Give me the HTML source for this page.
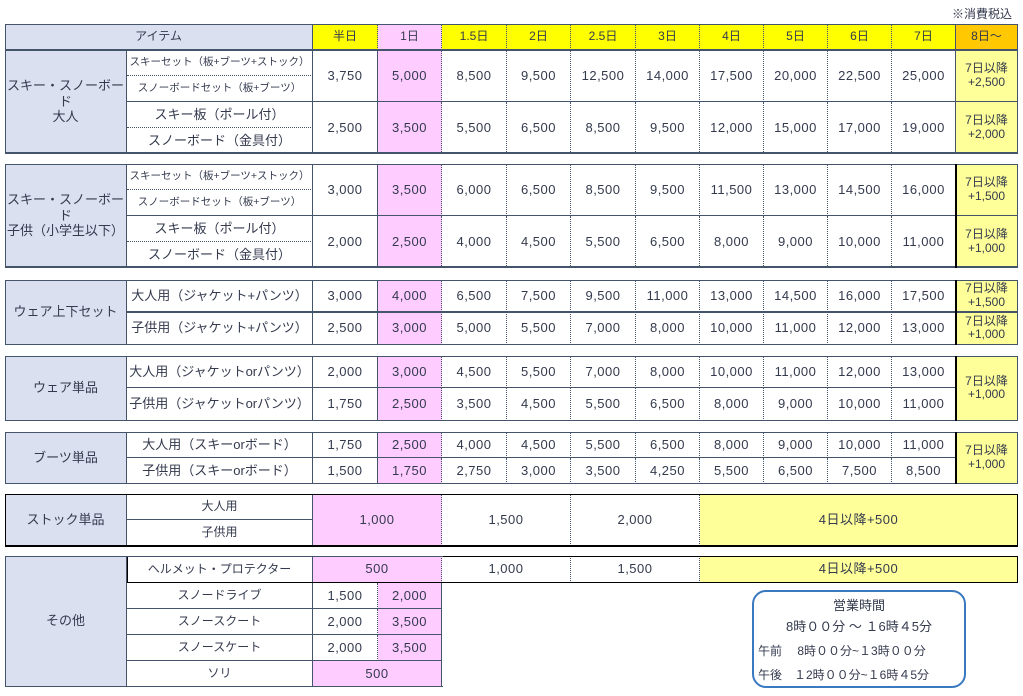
<!DOCTYPE html>
<html><head><meta charset="utf-8">
<style>
body{margin:0;background:#fff;width:1023px;height:696px;overflow:hidden;position:relative;font-family:"Liberation Sans","Noto Sans CJK JP",sans-serif;color:#333a4d;}
.c{position:absolute;box-sizing:border-box;display:flex;align-items:center;justify-content:center;text-align:center;line-height:1.2;border-right:1px solid #44546a;border-bottom:1px solid #44546a;font-size:12px;white-space:nowrap;overflow:hidden;}
.n{font-size:13px;letter-spacing:0.5px;}
.ex{font-size:12px;line-height:1.1;}
.dot{border-right:1px dotted #44546a;}
.dotb{border-bottom:1px dotted #44546a;}
.box{position:absolute;box-sizing:border-box;border:1px solid #44546a;pointer-events:none;}
</style></head><body>
<div style="position:absolute;left:952px;top:5px;font-size:12px;">※消費税込</div>
<div style="position:absolute;left:752px;top:590px;width:214px;height:98px;box-sizing:border-box;border:2px solid #3a78c0;border-radius:14px;font-size:13px;">
<div style="position:absolute;top:3px;width:100%;text-align:center;">営業時間</div>
<div style="position:absolute;top:24px;width:100%;text-align:center;">8時００分 ～ １6時４5分</div>
<div style="position:absolute;top:50px;left:4px;font-size:12px;">午前　 8時００分~１3時００分</div>
<div style="position:absolute;top:74px;left:4px;font-size:12px;">午後　１2時００分~１6時４5分</div>
</div>
<script>
const headers=['半日','1日','1.5日','2日','2.5日','3日','4日','5日','6日','7日','8日～'];
const xs=[313,378,442,507,571,636,700,764,828,892,956,1018];
const adultSkiSet=['3,750','5,000','8,500','9,500','12,500','14,000','17,500','20,000','22,500','25,000'];
const adultBoard=['2,500','3,500','5,500','6,500','8,500','9,500','12,000','15,000','17,000','19,000'];
const kidSkiSet=['3,000','3,500','6,000','6,500','8,500','9,500','11,500','13,000','14,500','16,000'];
const kidBoard=['2,000','2,500','4,000','4,500','5,500','6,500','8,000','9,000','10,000','11,000'];
const wearSetA=['3,000','4,000','6,500','7,500','9,500','11,000','13,000','14,500','16,000','17,500'];
const wearSetK=['2,500','3,000','5,000','5,500','7,000','8,000','10,000','11,000','12,000','13,000'];
const wearA=['2,000','3,000','4,500','5,500','7,000','8,000','10,000','11,000','12,000','13,000'];
const wearK=['1,750','2,500','3,500','4,500','5,500','6,500','8,000','9,000','10,000','11,000'];
const bootA=['1,750','2,500','4,000','4,500','5,500','6,500','8,000','9,000','10,000','11,000'];
const bootK=['1,500','1,750','2,750','3,000','3,500','4,250','5,500','6,500','7,500','8,500'];
const BG='#dae0f0',Y='#ffff00',P='#ffccff',O='#ffc800',LY='#ffff99',W='#fff';
function cell(x,y,w,h,txt,bg,cls){
  const d=document.createElement('div');
  d.className='c '+(cls||'');
  d.style.left=x+'px';d.style.top=y+'px';d.style.width=w+'px';d.style.height=h+'px';
  d.style.background=bg||W;
  d.innerHTML=txt;
  document.body.appendChild(d);
  return d;
}
function box(x,y,w,h,style){
  const b=document.createElement('div');b.className='box';
  b.style.left=x+'px';b.style.top=y+'px';b.style.width=w+'px';b.style.height=h+'px';
  if(style)b.style.cssText+=style;
  document.body.appendChild(b);
  return b;
}
function colBg(i){return i===1?P:W;}
let e=cell(5,24,308,26,'アイテム',BG);


headers.forEach((h,i)=>{
  const c=cell(xs[i],24,xs[i+1]-xs[i],26,h,i===10?O:(i===1?P:Y),i<9?'dot':'');
  
  
});
box(5,24,1013,27);
function priceRow(y,h,vals,extra,ex){
  vals.forEach((v,i)=>{
    const c=cell(xs[i],y,xs[i+1]-xs[i],h,v,colBg(i),'n'+(i<9&&i>0?' dot':''));
    
    
  });
  if(extra){
    const c=cell(956,y,62,ex||h,extra,LY,'ex');
    
    
  }
}
function group(y,h,label){
  const g=cell(5,y,122,h,label,BG,'');
  g.style.fontSize='13px';
  g.style.whiteSpace='normal';
  
  
}
function sub(y,h,label,dotted,fs){
  const s=cell(127,y,186,h,label,W,dotted?'dotb':'');
  if(fs)s.style.fontSize=fs;
  
  
}
[[50,'スキー・スノーボード<br>大人',adultSkiSet,adultBoard,'7日以降<br>+2,500','7日以降<br>+2,000'],
 [164,'スキー・スノーボード<br>子供（小学生以下）',kidSkiSet,kidBoard,'7日以降<br>+1,500','7日以降<br>+1,000']].forEach(s=>{
  const y=s[0];
  group(y,104,s[1]);
  sub(y,26,'スキーセット（板+ブーツ+ストック）',true,'10.5px');
  sub(y+26,26,'スノーボードセット（板+ブーツ）',false,'10.5px');
  sub(y+52,26,'スキー板（ポール付）',true,'13px');
  sub(y+78,26,'スノーボード（金具付）',false,'13px');
  priceRow(y,52,s[2],s[4]);
  priceRow(y+52,52,s[3],s[5]);
  box(5,y,1013,104,'border-bottom:2px solid #44546a;');
});
group(280,65,'ウェア上下セット');
sub(280,32,'大人用（ジャケット+パンツ）',false,'13px');
sub(312,33,'子供用（ジャケット+パンツ）',false,'13px');
priceRow(280,32,wearSetA,'7日以降<br>+1,500');
priceRow(312,33,wearSetK,'7日以降<br>+1,000');
box(5,280,1013,65);box(127,311,891,2,'border:none;background:#44546a');
group(356,65,'ウェア単品');
sub(356,32,'大人用（ジャケットorパンツ）',false,'13px');
sub(388,33,'子供用（ジャケットorパンツ）',false,'13px');
priceRow(356,32,wearA,'7日以降<br>+1,000',65);
priceRow(388,33,wearK);
box(5,356,1013,65);
group(432,52,'ブーツ単品');
sub(432,26,'大人用（スキーorボード）',false,'13px');
sub(458,26,'子供用（スキーorボード）',false,'13px');
priceRow(432,26,bootA,'7日以降<br>+1,000',52);
priceRow(458,26,bootK);
box(5,432,1013,52);
[[164,104],[280,65],[356,65],[432,52]].forEach(s=>{box(955,s[0],2,s[1],'border:none;background:#000');});
group(494,52,'ストック単品');
sub(494,26,'大人用',false,'12px');
sub(520,26,'子供用',false,'12px');
[[313,442,'1,000',P],[442,571,'1,500',W],[571,700,'2,000',W],[700,1018,'4日以降+500',LY]].forEach(a=>{
  const c=cell(a[0],494,a[1]-a[0],52,a[2],a[3],'n'+(a[0]<700?' dot':''));
  
  
});
box(5,494,1013,53,'border-color:#000;border-bottom:2px solid #000');
group(556,131,'その他');
sub(556,27,'ヘルメット・プロテクター',false,'12px');
[[313,442,'500',P],[442,571,'1,000',W],[571,700,'1,500',W],[700,1018,'4日以降+500',LY]].forEach(a=>{
  const c=cell(a[0],556,a[1]-a[0],27,a[2],a[3],'n'+(a[0]<700?' dot':''));
  
  
});
box(127,556,891,27,'border-color:#000');
[[583,'スノードライブ','1,500','2,000'],[609,'スノースクート','2,000','3,500'],[635,'スノースケート','2,000','3,500']].forEach(r=>{
  sub(r[0],26,r[1],false,'12px');
  const a=cell(313,r[0],65,26,r[2],W,'n dot');
  
  
  const b=cell(378,r[0],64,26,r[3],P,'n');
  
  
});
sub(661,26,'ソリ',false,'12px');
e=cell(313,661,129,26,'500',P,'n');


box(5,556,438,131,'border-color:#44546a;border-right:none');
</script>
</body></html>
